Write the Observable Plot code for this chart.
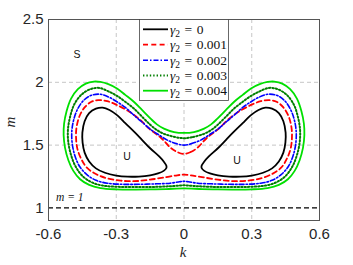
<!DOCTYPE html>
<html><head><meta charset="utf-8">
<script src="https://cdn.jsdelivr.net/npm/d3@7"></script>
<script src="https://cdn.jsdelivr.net/npm/@observablehq/plot@0.6"></script>
<style>body{margin:0;background:#fff}</style>
</head><body><div id="chart"></div>
<script>
// ---- data ----
const xTicks = [-0.6, -0.3, 0, 0.3, 0.6];
const xTickLabels = ["-0.6", "-0.3", "0", "0.3", "0.6"];
const yTicks = [1, 1.5, 2, 2.5];
const yTickLabels = ["1", "1.5", "2", "2.5"];
const gammaLabels = ["0", "0.001", "0.002", "0.003", "0.004"];

// gamma2 = 0 : two separate loops
const gamma0Right = [[0.078,1.335],[0.09,1.37],[0.11,1.41],[0.15,1.475],[0.19,1.55],[0.22,1.605],[0.26,1.675],[0.295,1.737],[0.33,1.78],[0.36,1.798],[0.39,1.79],[0.42,1.755],[0.44,1.69],[0.45,1.60],[0.449,1.52],[0.44,1.44],[0.42,1.37],[0.39,1.315],[0.35,1.28],[0.30,1.258],[0.25,1.249],[0.20,1.25],[0.15,1.26],[0.115,1.275],[0.09,1.295],[0.078,1.318]];
const gamma0Left = [[-0.078,1.335],[-0.09,1.37],[-0.11,1.41],[-0.15,1.475],[-0.19,1.55],[-0.22,1.605],[-0.26,1.675],[-0.295,1.737],[-0.33,1.78],[-0.36,1.798],[-0.39,1.79],[-0.42,1.755],[-0.44,1.69],[-0.45,1.60],[-0.449,1.52],[-0.44,1.44],[-0.42,1.37],[-0.39,1.315],[-0.35,1.28],[-0.30,1.258],[-0.25,1.249],[-0.20,1.25],[-0.15,1.26],[-0.115,1.275],[-0.09,1.295],[-0.078,1.318]];

const gamma1 = [[0,1.43],[0.03,1.445],[0.06,1.48],[0.10,1.555],[0.15,1.625],[0.20,1.71],[0.25,1.775],[0.30,1.822],[0.34,1.85],[0.38,1.858],[0.41,1.845],[0.44,1.80],[0.463,1.73],[0.476,1.64],[0.478,1.56],[0.472,1.47],[0.455,1.39],[0.43,1.32],[0.39,1.27],[0.34,1.235],[0.28,1.217],[0.22,1.213],[0.15,1.225],[0.08,1.245],[0.03,1.26],
  [0,1.265],
  [-0.03,1.26],[-0.08,1.245],[-0.15,1.225],[-0.22,1.213],[-0.28,1.217],[-0.34,1.235],[-0.39,1.27],[-0.43,1.32],[-0.455,1.39],[-0.472,1.47],[-0.478,1.56],[-0.476,1.64],[-0.463,1.73],[-0.44,1.80],[-0.41,1.845],[-0.38,1.858],[-0.34,1.85],[-0.30,1.822],[-0.25,1.775],[-0.20,1.71],[-0.15,1.625],[-0.10,1.555],[-0.06,1.48],[-0.03,1.445]];

const gamma2 = [[0,1.50],[0.03,1.51],[0.074,1.54],[0.11,1.58],[0.148,1.625],[0.19,1.69],[0.221,1.737],[0.26,1.80],[0.295,1.843],[0.33,1.88],[0.37,1.905],[0.41,1.897],[0.445,1.855],[0.473,1.78],[0.49,1.69],[0.497,1.60],[0.494,1.50],[0.482,1.41],[0.462,1.33],[0.43,1.265],[0.39,1.22],[0.34,1.197],[0.27,1.188],[0.20,1.188],[0.12,1.192],[0.06,1.197],[0.02,1.208],
  [0,1.212],
  [-0.02,1.208],[-0.06,1.197],[-0.12,1.192],[-0.20,1.188],[-0.27,1.188],[-0.34,1.197],[-0.39,1.22],[-0.43,1.265],[-0.462,1.33],[-0.482,1.41],[-0.494,1.50],[-0.497,1.60],[-0.49,1.69],[-0.473,1.78],[-0.445,1.855],[-0.41,1.897],[-0.37,1.905],[-0.33,1.88],[-0.295,1.843],[-0.26,1.80],[-0.221,1.737],[-0.19,1.69],[-0.148,1.625],[-0.11,1.58],[-0.074,1.54],[-0.03,1.51]];

const gamma3 = [[0,1.555],[0.04,1.565],[0.089,1.59],[0.12,1.62],[0.148,1.66],[0.185,1.725],[0.221,1.79],[0.26,1.845],[0.295,1.89],[0.335,1.928],[0.375,1.955],[0.415,1.945],[0.455,1.90],[0.487,1.82],[0.505,1.72],[0.514,1.62],[0.512,1.52],[0.50,1.42],[0.48,1.33],[0.45,1.255],[0.41,1.205],[0.36,1.178],[0.29,1.168],[0.20,1.166],[0.12,1.168],[0.05,1.174],
  [0,1.18],
  [-0.05,1.174],[-0.12,1.168],[-0.20,1.166],[-0.29,1.168],[-0.36,1.178],[-0.41,1.205],[-0.45,1.255],[-0.48,1.33],[-0.50,1.42],[-0.512,1.52],[-0.514,1.62],[-0.505,1.72],[-0.487,1.82],[-0.455,1.90],[-0.415,1.945],[-0.375,1.955],[-0.335,1.928],[-0.295,1.89],[-0.26,1.845],[-0.221,1.79],[-0.185,1.725],[-0.148,1.66],[-0.12,1.62],[-0.089,1.59],[-0.04,1.565]];

const gamma4 = [[0,1.597],[0.044,1.604],[0.089,1.631],[0.12,1.665],[0.148,1.711],[0.185,1.778],[0.221,1.843],[0.26,1.90],[0.295,1.949],[0.335,1.985],[0.37,2.003],[0.40,2.006],[0.435,1.99],[0.47,1.945],[0.50,1.87],[0.52,1.77],[0.531,1.67],[0.533,1.58],[0.527,1.48],[0.512,1.38],[0.49,1.295],[0.46,1.228],[0.42,1.183],[0.37,1.158],[0.30,1.148],[0.22,1.146],[0.15,1.147],[0.08,1.15],
  [0,1.156],
  [-0.08,1.15],[-0.15,1.147],[-0.22,1.146],[-0.30,1.148],[-0.37,1.158],[-0.42,1.183],[-0.46,1.228],[-0.49,1.295],[-0.512,1.38],[-0.527,1.48],[-0.533,1.58],[-0.531,1.67],[-0.52,1.77],[-0.50,1.87],[-0.47,1.945],[-0.435,1.99],[-0.40,2.006],[-0.37,2.003],[-0.335,1.985],[-0.295,1.949],[-0.26,1.90],[-0.221,1.843],[-0.185,1.778],[-0.148,1.711],[-0.12,1.665],[-0.089,1.631],[-0.044,1.604]];

const regionLabels = [{k:-0.474, m:2.224, t:"S"}, {k:-0.252, m:1.411, t:"U"}, {k:0.235, m:1.377, t:"U"}];
const lineLabel = [{k:-0.567, m:1.081, t:"m = 1"}];
const refLine = [1];

// ---- styles ----
const styles = [
  {stroke:"#000000", dash:null, w:1.8},
  {stroke:"#ff0000", dash:"5,3.3", w:1.8},
  {stroke:"#0000ff", dash:"5,2,1.5,2", w:1.6},
  {stroke:"#007f00", dash:"1.4,2", w:2},
  {stroke:"#00e000", dash:null, w:1.8}
];

const seriesLoops = [[gamma0Right, gamma0Left], [gamma1], [gamma2], [gamma3], [gamma4]];
const toRows = (loops) => loops.flatMap((pts, li) => pts.map(([k, m]) => ({k, m, loop: li})));

const marks = [
  Plot.gridX([-0.3, 0, 0.3], {stroke:"#b8b8b8", strokeOpacity:1, strokeDasharray:"4,3", strokeWidth:0.8}),
  Plot.gridY([1.5, 2], {stroke:"#b8b8b8", strokeOpacity:1, strokeDasharray:"4,3", strokeWidth:0.8}),
  Plot.ruleY(refLine, {stroke:"#000", strokeWidth:1.3, strokeDasharray:"5,3"}),
];
seriesLoops.forEach((loops, i) => {
  const s = styles[i];
  marks.push(Plot.line(toRows(loops), {x:"k", y:"m", z:"loop", curve:"catmull-rom-closed",
    stroke:s.stroke, strokeWidth:s.w, strokeDasharray:s.dash ?? undefined}));
});
marks.push(
  Plot.text(regionLabels, {x:"k", y:"m", text:"t", fontSize:10.5, fill:"#111", fontFamily:"Liberation Sans, Arial, sans-serif"}),
  Plot.text(lineLabel, {x:"k", y:"m", text:"t", textAnchor:"start", fontSize:11.5, fill:"#111", fontFamily:"Liberation Serif, serif", fontStyle:"italic"}),
  Plot.frame({stroke:"#555", strokeWidth:1}),
  Plot.axisX(xTicks, {tickSize:0, tickPadding:8, tickFormat: d => xTickLabels[xTicks.indexOf(d)], fontSize:15, fill:"#262626", label:null}),
  Plot.axisY(yTicks, {tickSize:0, tickPadding:5, tickFormat: d => yTickLabels[yTicks.indexOf(d)], fontSize:15, fill:"#262626", label:null})
);

const plot = Plot.plot({
  width: 353, height: 265,
  marginLeft: 48, marginRight: 34, marginTop: 19, marginBottom: 45,
  x: {domain: [-0.6, 0.6]},
  y: {domain: [0.9, 2.5]},
  style: {fontFamily: "Liberation Sans, Arial, sans-serif", background: "#fff", color: "#262626", overflow: "visible"},
  marks
});
document.getElementById("chart").appendChild(plot);

// ---- axis titles and legend (layout) ----
const svg = d3.select(plot);
svg.append("text").attr("x", 183).attr("y", 256.5).attr("text-anchor", "middle")
  .style("font-family", "Liberation Serif, serif").style("font-style", "italic").style("font-size", "15px").attr("fill", "#262626").text("k");
svg.append("text").attr("transform", "translate(14.5,122) rotate(-90)").attr("text-anchor", "middle")
  .style("font-family", "Liberation Serif, serif").style("font-style", "italic").style("font-size", "15px").attr("fill", "#262626").text("m");

const lg = svg.append("g");
lg.append("rect").attr("x", 139.5).attr("y", 19.5).attr("width", 89).attr("height", 81)
  .attr("fill", "#fff").attr("stroke", "#444").attr("stroke-width", 0.8);
const rowY = [29.3, 44.7, 60.2, 75.4, 90.7];
gammaLabels.forEach((g, i) => {
  const s = styles[i];
  const ln = lg.append("line").attr("x1", 143).attr("x2", 168).attr("y1", rowY[i]).attr("y2", rowY[i])
    .attr("stroke", s.stroke).attr("stroke-width", s.w);
  if (s.dash) ln.attr("stroke-dasharray", s.dash);
  const t = lg.append("text").attr("x", 170).attr("y", rowY[i] + 4.5).attr("text-anchor", "start")
    .style("font-family", "Liberation Serif, serif").style("font-size", "13.5px").attr("fill", "#111");
  t.append("tspan").style("font-style", "italic").text("\u03B3");
  t.append("tspan").attr("dy", 3).style("font-size", "9.5px").text("2");
  t.append("tspan").attr("dy", -3).text("\u2004=\u2004" + g);
});
</script>
</body></html>
